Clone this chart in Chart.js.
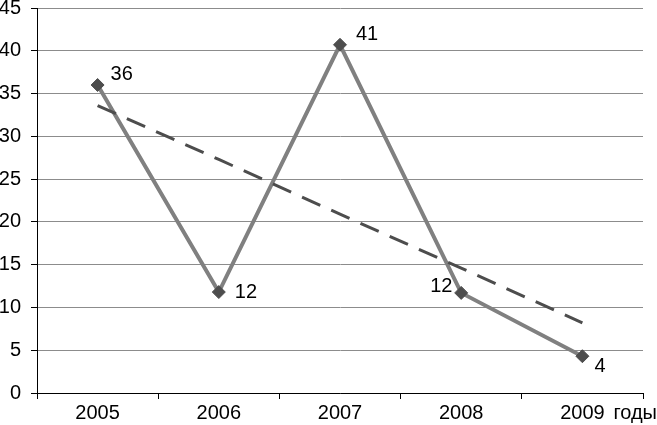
<!DOCTYPE html>
<html>
<head>
<meta charset="utf-8">
<script src="https://cdn.jsdelivr.net/npm/chart.js@4.4.0/dist/chart.umd.min.js"></script>
<style>
  html, body { margin: 0; padding: 0; background: #fff; }
  #wrap { width: 657px; height: 425px; }
</style>
</head>
<body>
<div id="wrap"><canvas id="chart"></canvas></div>
<script>
// data
var years = ['2005', '2006', '2007', '2008', '2009'];
var values = [36, 11.8, 40.7, 11.7, 4.3];
var valueLabels = ['36', '12', '41', '12', '4'];
var trendValues = [33.6, 27.3, 20.9, 14.6, 8.2];
var yTicks = [0, 5, 10, 15, 20, 25, 30, 35, 40, 45];
var axisTitle = 'годы';

// where each value label sits relative to its point
var labelOffsets = [[13, -11], [16, 0], [16, -10], [-31, -6], [12, 10]];

var FONT = 'Liberation Sans, Arial, sans-serif';

var labelPlugin = {
    id: 'labels',
    afterDatasetsDraw: function (chart) {
        var ctx = chart.ctx;
        var meta = chart.getDatasetMeta(1);
        ctx.save();
        ctx.font = '20px ' + FONT;
        ctx.fillStyle = '#000';
        ctx.textAlign = 'left';
        ctx.textBaseline = 'middle';
        meta.data.forEach(function (pt, i) {
            ctx.fillText(valueLabels[i], pt.x + labelOffsets[i][0], pt.y + labelOffsets[i][1]);
        });
        // axis caption next to the last year
        var xs = chart.scales.x;
        ctx.fillText(axisTitle, xs.getPixelForValue(4) + 31, chart.chartArea.bottom + 20);
        ctx.restore();
    }
};

var ctx = document.getElementById('chart').getContext('2d');
var chart = new Chart(ctx, {
    type: 'line',
    data: {
        labels: years,
        datasets: [{
            label: 'trend',
            data: trendValues,
            borderColor: '#4d4d4d',
            borderWidth: 3,
            borderDash: [20, 12],
            pointRadius: 0,
            fill: false
        }, {
            label: 'values',
            data: values,
            borderColor: '#808080',
            borderWidth: 4,
            pointStyle: 'rectRot',
            pointRadius: 6.5,
            pointBackgroundColor: '#4d4d4d',
            pointBorderColor: '#4d4d4d',
            pointBorderWidth: 1,
            fill: false
        }]
    },
    options: {
        responsive: true,
        maintainAspectRatio: false,
        animation: false,
        layout: { padding: { top: 8, right: 14, left: 0, bottom: 0 } },
        plugins: {
            legend: { display: false },
            tooltip: { enabled: false }
        },
        scales: {
            x: {
                offset: true,
                grid: {
                    offset: true,
                    drawOnChartArea: false,
                    drawTicks: true,
                    tickLength: 6,
                    tickColor: '#000'
                },
                border: { color: '#000', width: 1 },
                ticks: {
                    color: '#000',
                    font: { family: FONT, size: 20 },
                    padding: 2,
                    maxRotation: 0
                },
                afterFit: function (axis) {
                    axis.height = 32;
                    axis.paddingLeft = 0;
                    axis.paddingRight = 0;
                }
            },
            y: {
                min: 0,
                max: 45,
                afterBuildTicks: function (axis) {
                    axis.ticks = yTicks.map(function (v) { return { value: v }; });
                },
                afterFit: function (axis) {
                    axis.width = 37;
                    axis.paddingTop = 0;
                    axis.paddingBottom = 0;
                },
                grid: {
                    color: '#8c8c8c',
                    lineWidth: 1,
                    drawTicks: true,
                    tickLength: 6,
                    tickColor: '#000'
                },
                border: { color: '#000', width: 1 },
                ticks: {
                    color: '#000',
                    font: { family: FONT, size: 20 },
                    padding: 10
                }
            }
        }
    },
    plugins: [labelPlugin]
});
</script>
</body>
</html>
